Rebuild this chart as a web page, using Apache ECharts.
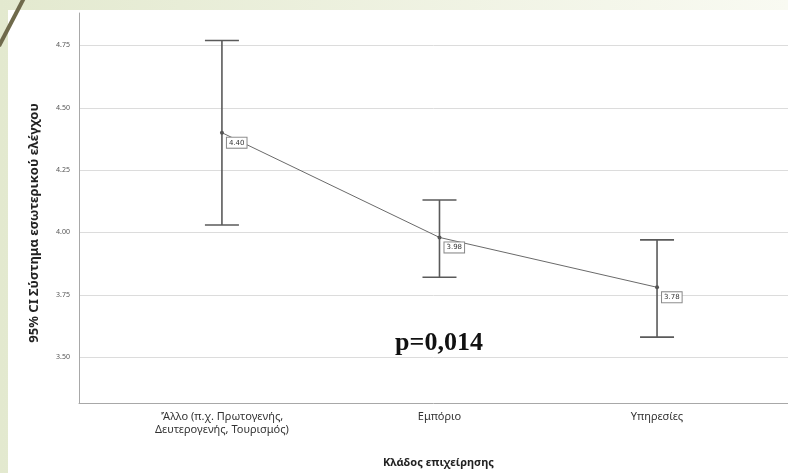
<!DOCTYPE html>
<html><head><meta charset="utf-8">
<script src="https://cdn.jsdelivr.net/npm/echarts@6/dist/echarts.min.js"></script>
<style>html,body{margin:0;padding:0;}#c{width:788px;height:473px;}</style>
</head><body><div id="c"></div>
<script>
const categories = ["'Άλλο (π.χ. Πρωτογενής,\nΔευτερογενής, Τουρισμός)", "Εμπόριο", "Υπηρεσίες"];
const means = [4.40, 3.98, 3.78];
const ciLower = [4.03, 3.82, 3.58];
const ciUpper = [4.77, 4.13, 3.97];
const yTicks = [3.50, 3.75, 4.00, 4.25, 4.50, 4.75];
const yTitle = "95% CI Σύστημα εσωτερικού ελέγχου";
const xTitle = "Κλάδος επιχείρησης";
const pText = "p=0,014";

const chart = echarts.init(document.getElementById('c'));
const idx = categories.map((_, i) => i);
chart.setOption({
  animation: false,
  grid: {left: 79, right: 0, top: 13, bottom: 70},
  graphic: [
    {type: 'rect', z: -20, silent: true, shape: {x: 0, y: 0, width: 788, height: 473},
     style: {fill: new echarts.graphic.LinearGradient(0, 0, 1, 0, [{offset: 0, color: '#e3e9cf'}, {offset: 1, color: '#f9faf2'}])}},
    {type: 'rect', z: -19, silent: true, shape: {x: 8, y: 10, width: 780, height: 463}, style: {fill: '#ffffff'}},
    {type: 'line', z: -18, silent: true, shape: {x1: 24, y1: -2, x2: -1, y2: 46}, style: {stroke: '#6f6a4c', lineWidth: 4}},
    {type: 'group', z: 100, children: [
      {type: 'rect', shape: {x: 376, y: 322, width: 127, height: 42}, style: {fill: '#ffffff'}},
      {type: 'text', x: 439, y: 343, style: {text: pText, font: 'bold 26px "Liberation Serif", serif', fill: '#111', align: 'center', verticalAlign: 'middle'}}
    ]}
  ],
  xAxis: {
    type: 'value', min: -0.657, max: 2.602,
    name: xTitle, nameLocation: 'middle', nameGap: 54,
    nameTextStyle: {fontFamily: 'Noto Sans', fontWeight: 'bold', fontSize: 11, color: '#222', padding: [0, 0, 0, 10]},
    axisLine: {show: true, onZero: false, lineStyle: {color: '#a8a8a8', width: 1}},
    axisTick: {show: false, customValues: idx},
    splitLine: {show: false},
    axisLabel: {customValues: idx, formatter: v => categories[Math.round(v)], fontFamily: 'Noto Sans', fontSize: 11, color: '#333', lineHeight: 13, margin: 7}
  },
  yAxis: {
    type: 'value', min: 3.316, max: 4.880,
    name: yTitle, nameLocation: 'middle', nameRotate: 90, nameGap: 38,
    nameTextStyle: {fontFamily: 'Noto Sans', fontWeight: 'bold', fontSize: 13, color: '#222', padding: [0, 30, 0, 0]},
    axisLine: {show: true, onZero: false, lineStyle: {color: '#a8a8a8', width: 1}},
    axisTick: {show: false, customValues: yTicks},
    splitLine: {show: true, lineStyle: {color: '#dcdcdc', width: 1}},
    axisLabel: {customValues: yTicks, formatter: v => v.toFixed(2), fontFamily: 'Noto Sans', fontSize: 7, color: '#555', margin: 9}
  },
  series: [
    {
      type: 'custom', z: 3,
      data: idx.map(i => [i, ciLower[i], ciUpper[i]]),
      renderItem: function (params, api) {
        const lo = api.coord([api.value(0), api.value(1)]);
        const hi = api.coord([api.value(0), api.value(2)]);
        const hw = 17;
        const st = {stroke: '#5a5a5a', lineWidth: 1.6};
        return {type: 'group', children: [
          {type: 'line', shape: {x1: lo[0], y1: lo[1], x2: hi[0], y2: hi[1]}, style: st},
          {type: 'line', shape: {x1: hi[0] - hw, y1: hi[1], x2: hi[0] + hw, y2: hi[1]}, style: st},
          {type: 'line', shape: {x1: lo[0] - hw, y1: lo[1], x2: lo[0] + hw, y2: lo[1]}, style: st}
        ]};
      }
    },
    {
      type: 'line', z: 4,
      data: idx.map(i => [i, means[i]]),
      symbol: 'circle', symbolSize: 4,
      itemStyle: {color: '#555'},
      lineStyle: {color: '#6a6a6a', width: 1},
      label: {
        show: true, position: 'right', offset: [-2, 10],
        formatter: p => p.value[1].toFixed(2),
        fontFamily: 'DejaVu Sans', fontSize: 7, color: '#333',
        backgroundColor: '#fff', borderColor: '#888', borderWidth: 1, padding: [2, 2, 1, 2]
      }
    }
  ]
});
</script></body></html>
